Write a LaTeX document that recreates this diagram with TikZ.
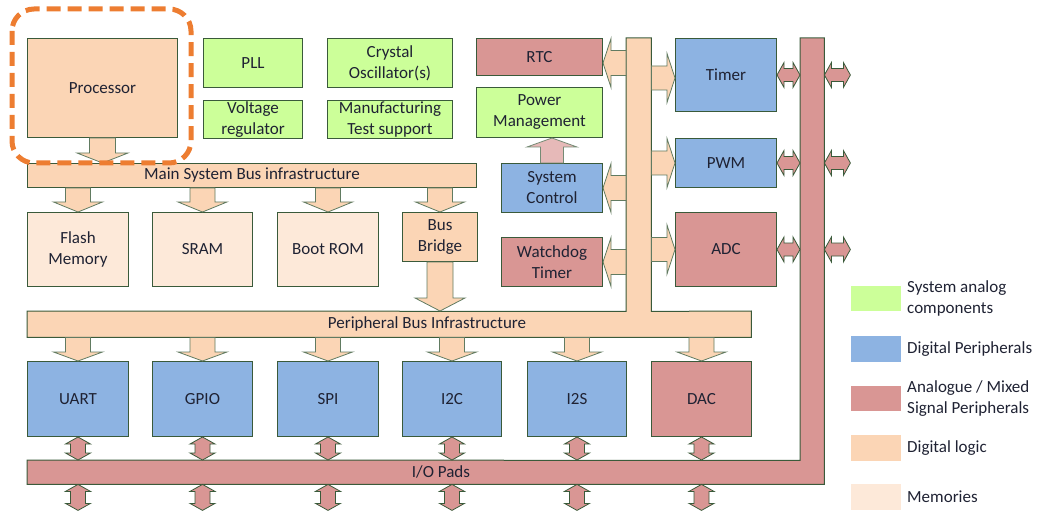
\documentclass[tikz,border=0pt]{standalone}
\usepackage{fontspec}
\setmainfont{Carlito}
\usetikzlibrary{calc}

\definecolor{analogc}{HTML}{CCFF99}
\definecolor{digperc}{HTML}{8DB3E2}
\definecolor{mixedc}{HTML}{D99694}
\definecolor{logicc}{HTML}{FBD5B5}
\definecolor{memc}{HTML}{FDE9D9}
\definecolor{edgec}{HTML}{3A5A3A}
\definecolor{txtc}{HTML}{1F2233}
\definecolor{uparrowc}{HTML}{E6B9B8}
\definecolor{focusc}{HTML}{ED7D31}

% block: name, x1, y1, x2, y2, style, text
\newcommand\blk[7]{%
  \pgfmathsetmacro\blkw{#4-#2}\pgfmathsetmacro\blkh{#5-#3}%
  \node[#6, anchor=north west, minimum width=\blkw pt, minimum height=\blkh pt] (#1) at (#2,#3) {#7};}

% single block arrow: style, tail, tip, shaft half width, head half width, head length
\newcommand\barrow[6]{%
  \coordinate (ba) at #2; \coordinate (bb) at #3;
  \coordinate (bc) at ($(bb)!#6!(ba)$);
  \draw[#1] ($(ba)!#4!90:(bb)$) -- ($(bc)!#4!90:(bb)$) -- ($(bc)!#5!90:(bb)$) -- (bb)
    -- ($(bc)!#5!-90:(bb)$) -- ($(bc)!#4!-90:(bb)$) -- ($(ba)!#4!-90:(bb)$) -- cycle;}

% double block arrow: style, end A, end B, shaft half width, head half width, head length
\newcommand\dbarrow[6]{%
  \coordinate (da) at #2; \coordinate (db) at #3;
  \coordinate (dca) at ($(da)!#6!(db)$); \coordinate (dcb) at ($(db)!#6!(da)$);
  \draw[#1] (da) -- ($(dca)!#5!90:(db)$) -- ($(dca)!#4!90:(db)$) -- ($(dcb)!#4!90:(db)$)
    -- ($(dcb)!#5!90:(db)$) -- (db) -- ($(dcb)!#5!-90:(db)$) -- ($(dcb)!#4!-90:(db)$)
    -- ($(dca)!#4!-90:(db)$) -- ($(dca)!#5!-90:(db)$) -- cycle;}

\begin{document}
\begin{tikzpicture}[x=1pt, y=-1pt,
  lbl/.style={font=\fontsize{17}{21}\selectfont, text=txtc},
  box/.style={lbl, draw=edgec, line width=1pt, inner sep=0pt, align=center},
  analog/.style={box, fill=analogc},
  digper/.style={box, fill=digperc},
  mixed/.style={box, fill=mixedc},
  logic/.style={box, fill=logicc},
  mem/.style={box, fill=memc},
  busfill/.style={fill=logicc, inner sep=0pt},
  padfill/.style={fill=mixedc, inner sep=0pt},
  busarrow/.style={fill=logicc, draw=edgec!80, line width=0.8pt, line join=miter},
  ioarrow/.style={fill=mixedc, draw=edgec, line width=0.8pt},
  ctlarrow/.style={fill=uparrowc, draw=edgec!70, line width=0.8pt},
  legtext/.style={lbl, anchor=west, align=left, inner sep=0pt}]

\useasboundingbox (0,0) rectangle (1041,513);

% top row
\blk{processor}{27}{38}{177}{137}{logic}{Processor}
\blk{pll}{203}{38}{302}{87}{analog}{PLL}
\blk{vreg}{203}{100}{302}{138}{analog}{Voltage\\regulator}
\blk{xtal}{327}{38}{452}{87}{analog}{Crystal\\Oscillator(s)}
\blk{mfg}{327}{100}{452}{138}{analog}{Manufacturing\\Test support}
\blk{rtc}{476}{38}{602}{75}{mixed}{RTC}
\blk{pwrmgmt}{476}{87}{602}{137}{analog}{Power\\Management}
\blk{sysctl}{501}{163}{602}{212}{digper}{System\\Control}
\blk{wdt}{501}{237}{602}{286}{mixed}{Watchdog\\Timer}
\blk{timer}{675}{38}{776}{111}{digper}{Timer}
\blk{pwm}{675}{138}{776}{187}{digper}{PWM}
\blk{adc}{675}{212}{776}{286}{mixed}{ADC}

% main system bus
\blk{mainbus}{27}{163}{476}{187}{logic}{Main System Bus infrastructure}

% memories and bridge
\blk{flash}{27}{212}{128}{286}{mem}{Flash\\Memory}
\blk{sram}{152}{212}{252}{286}{mem}{SRAM}
\blk{bootrom}{277}{212}{378}{286}{mem}{Boot ROM}
\blk{bridge}{402}{212}{477}{261}{logic}{Bus\\Bridge}

% peripheral bus with its vertical branch
\blk{pbus}{27}{311}{751}{337}{busfill}{}
\blk{vbus}{626}{38}{651}{311}{busfill}{}
\draw[edgec, line width=1pt] (pbus.north west) -- (vbus.south west) -- (vbus.north west)
  -- (vbus.north east) -- (vbus.south east) -- (pbus.north east) -- (pbus.south east)
  -- (pbus.south west) -- cycle;
\node[lbl] (pbuslabel) at (427,324) {Peripheral Bus Infrastructure};

% peripherals
\blk{uart}{27}{361}{128}{436}{digper}{UART}
\blk{gpio}{152}{361}{252}{436}{digper}{GPIO}
\blk{spi}{277}{361}{378}{436}{digper}{SPI}
\blk{iic}{402}{361}{501}{436}{digper}{I2C}
\blk{iis}{527}{361}{626}{436}{digper}{I2S}
\blk{dac}{651}{361}{751}{436}{mixed}{DAC}

% I/O pads ring
\blk{iopad}{27}{460}{824}{484}{padfill}{}
\blk{iov}{800}{38}{824}{460}{padfill}{}
\draw[edgec, line width=1pt] (iopad.north west) -- (iov.south west) -- (iov.north west)
  -- (iov.north east) -- (iopad.south east) -- (iopad.south west) -- cycle;
\node[lbl] (padlabel) at (441,472) {I/O Pads};

% bus arrows
\barrow{busarrow}{(processor.south)}{(processor.south |- mainbus.north)}{13pt}{25.5pt}{10pt}
\foreach \m in {flash, sram, bootrom, bridge}{
  \barrow{busarrow}{(\m.north |- mainbus.south)}{(\m.north)}{12.5pt}{24.5pt}{10pt}
}
\barrow{busarrow}{(bridge.south)}{(bridge.south |- pbus.north)}{13pt}{25pt}{13pt}
\foreach \m in {uart, gpio, spi, iic, iis, dac}{
  \barrow{busarrow}{(\m.north |- pbus.south)}{(\m.north)}{12.5pt}{24.5pt}{9pt}
}

% from the vertical bus to its peripherals
\barrow{busarrow}{($(rtc.east -| vbus.west)+(0,6)$)}{($(rtc.east)+(0,6)$)}{12.5pt}{24.5pt}{8pt}
\barrow{busarrow}{(sysctl.east -| vbus.west)}{(sysctl.east)}{12.5pt}{24.5pt}{8pt}
\barrow{busarrow}{(wdt.east -| vbus.west)}{(wdt.east)}{12.5pt}{24.5pt}{8pt}
\barrow{busarrow}{($(timer.west -| vbus.east)+(0,3)$)}{($(timer.west)+(0,3)$)}{12pt}{24.5pt}{8pt}
\barrow{busarrow}{(pwm.west -| vbus.east)}{(pwm.west)}{12pt}{24.5pt}{8pt}
\barrow{busarrow}{(adc.west -| vbus.east)}{(adc.west)}{12pt}{24.5pt}{8pt}

% system control to power management
\barrow{ctlarrow}{(sysctl.north)}{(sysctl.north |- pwrmgmt.south)}{11.5pt}{25pt}{9pt}

% I/O connections
\foreach \m in {timer, pwm, adc}{
  \dbarrow{ioarrow}{(\m.east)}{(\m.east -| iov.west)}{6.5pt}{12.5pt}{7pt}
  \dbarrow{ioarrow}{(\m.east -| iov.east)}{($(\m.east -| iov.east)+(26,0)$)}{6.5pt}{12.5pt}{7pt}
}
\foreach \m in {uart, gpio, spi, iic, iis, dac}{
  \dbarrow{ioarrow}{(\m.south)}{(\m.south |- iopad.north)}{7.5pt}{12.5pt}{7pt}
  \dbarrow{ioarrow}{(\m.south |- iopad.south)}{($(\m.south |- iopad.south)+(0,26)$)}{7.5pt}{12.5pt}{7pt}
}

% highlight around the processor
\draw[focusc, line width=5pt, dash pattern=on 14pt off 7pt, rounded corners=22pt]
  (12,9) rectangle (191,163);

% legend
\fill[analogc] (851,286) rectangle (901,311);
\fill[digperc] (851,336) rectangle (901,362);
\fill[mixedc] (851,386) rectangle (901,411);
\fill[logicc] (851,435) rectangle (901,461);
\fill[memc] (851,484) rectangle (901,510);
\node[legtext] (leg1) at (907,298.5) {System analog\\components};
\node[legtext] (leg2) at (907,349) {Digital Peripherals};
\node[legtext] (leg3) at (907,398.5) {Analogue / Mixed\\Signal Peripherals};
\node[legtext] (leg4) at (907,448) {Digital logic};
\node[legtext] (leg5) at (907,497) {Memories};
\end{tikzpicture}
\end{document}
